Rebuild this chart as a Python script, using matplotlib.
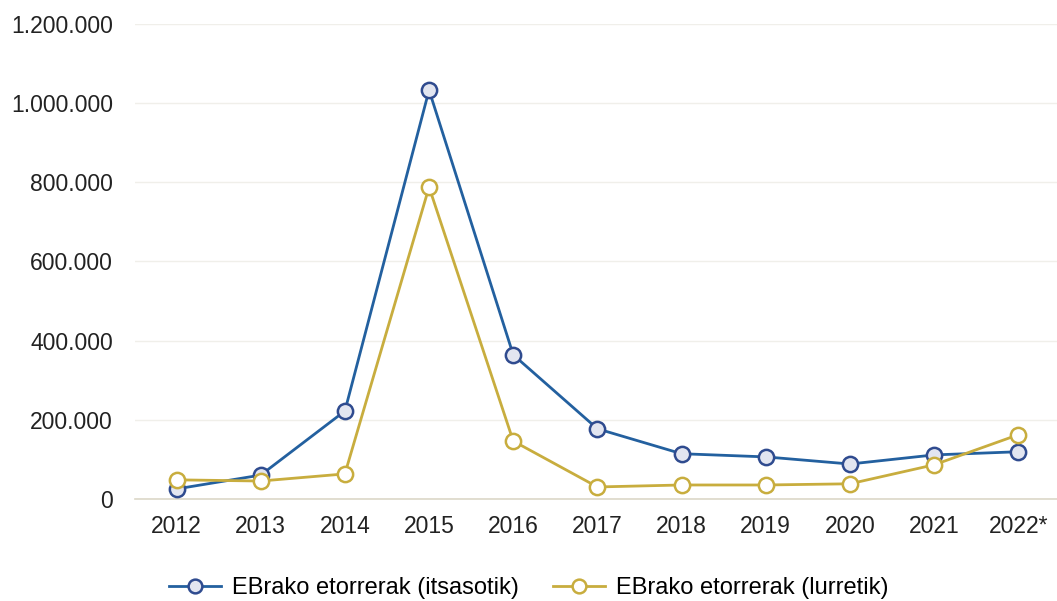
import matplotlib
matplotlib.use("Agg")
import matplotlib.pyplot as plt
from matplotlib.ticker import FuncFormatter

years = ["2012", "2013", "2014", "2015", "2016", "2017", "2018", "2019", "2020", "2021", "2022*"]
itsasotik = [25000, 60000, 222000, 1033000, 364000, 177000, 114000, 106000, 88000, 111000, 119000]
lurretik = [48000, 45000, 63000, 788000, 146000, 30000, 35000, 35000, 38000, 86000, 162000]
labels = ["EBrako etorrerak (itsasotik)", "EBrako etorrerak (lurretik)"]

plt.rcParams['font.family'] = ['Liberation Sans', 'DejaVu Sans']

fig = plt.figure(figsize=(10.57, 6.01), dpi=100)
ax = fig.add_axes([0.128, 0.170, 0.872, 0.790])

x = list(range(len(years)))
ax.plot(x, itsasotik, color="#23609f", lw=2, marker="o", ms=11,
        markerfacecolor="#e2e5f0", markeredgecolor="#2f4b8f", markeredgewidth=1.8,
        label=labels[0], zorder=3)
ax.plot(x, lurretik, color="#c8ad3e", lw=2, marker="o", ms=11,
        markerfacecolor="white", markeredgecolor="#c8ad3e", markeredgewidth=1.8,
        label=labels[1], zorder=3)

ax.set_xlim(-0.49, len(years) - 1 + 0.46)
ax.set_ylim(0, 1200000)
ax.set_yticks(range(0, 1200001, 200000))
ax.yaxis.set_major_formatter(FuncFormatter(lambda v, p: f"{int(v):,}".replace(",", ".")))
ax.set_xticks(x)
ax.set_xticklabels(years)
ax.tick_params(length=0, labelsize=16.5, colors="#222222")
ax.tick_params(axis="y", pad=16)
ax.tick_params(axis="x", pad=12)
ax.grid(axis="y", color="#f0efea", lw=1)
ax.set_axisbelow(True)
for s in ["top", "right", "left"]:
    ax.spines[s].set_visible(False)
ax.spines["bottom"].set_color("#dcd8c8")
ax.spines["bottom"].set_linewidth(1.2)

fig.legend(loc="center", bbox_to_anchor=(0.5, 1 - 588 / 601), ncol=2, frameon=False,
           fontsize=17, handlelength=2.2, columnspacing=1.45, handletextpad=0.47,
           markerscale=0.9)

fig.savefig("out.png", dpi=100)
